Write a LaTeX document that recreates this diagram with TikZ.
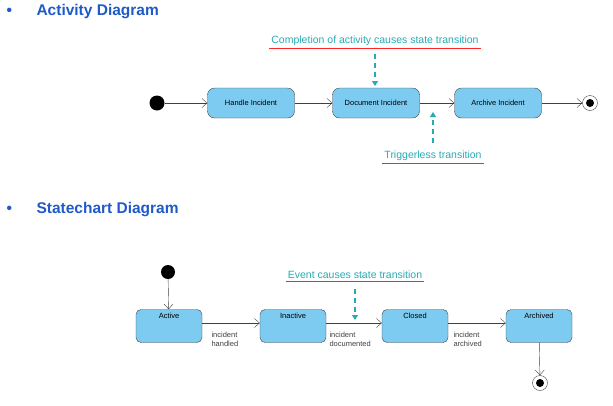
\documentclass[tikz,border=0pt]{standalone}
\usepackage{fontspec}
\setmainfont{Liberation Sans}
\usetikzlibrary{arrows.meta, positioning}
\definecolor{boxfill}{RGB}{125,203,240}
\definecolor{headblue}{RGB}{31,90,200}
\definecolor{noteteal}{RGB}{40,170,180}
\tikzset{
  act/.style={draw=black!75, fill=boxfill, rounded corners=7pt, minimum width=87pt, minimum height=30pt, font=\fontsize{7.5}{8}\selectfont},
  st/.style={draw=black!75, fill=boxfill, rounded corners=5pt, minimum width=66pt, minimum height=33pt},
  flow/.style={draw=black!75, -{Straight Barb[length=5pt,width=9pt]}},
  note/.style={text=noteteal, font=\fontsize{10.5}{12}\selectfont, inner sep=2pt},
  hint/.style={noteteal, line width=1.6pt, dash pattern=on 5pt off 4pt, -{Triangle[length=5pt,width=6pt]}},
  init/.style={circle, fill=black, inner sep=0pt, minimum size=15pt},
  lbl/.style={font=\fontsize{7.5}{9}\selectfont, align=left, anchor=north west, text=black!75},
  head/.style={text=headblue, font=\bfseries\fontsize{15.5}{17}\selectfont, anchor=west}
}
\begin{document}
\begin{tikzpicture}[x=1pt, y=-1pt]
    \useasboundingbox (0,0) rectangle (613,405);

    % Headings
    \node[head] (b1) at (3,12) {•};
    \node[head] (h1) at (33,12) {Activity Diagram};
    \node[head] (b2) at (3,210) {•};
    \node[head] (h2) at (33,210) {Statechart Diagram};

    % Activity diagram
    \node[init] (start) at (157,103) {};
    \node[act] (handle) at (251,103) {Handle Incident};
    \node[act] (doc) at (376,103) {Document Incident};
    \node[act] (arch) at (498,103) {Archive Incident};
    \node[circle, draw=black!75, fill=white, minimum size=15pt, inner sep=0pt] (stop) at (590,103) {};
    \node[init, minimum size=8pt] (stopdot) at (stop) {};
    \draw[flow] (start) -- (handle);
    \draw[flow] (handle) -- (doc);
    \draw[flow] (doc) -- (arch);
    \draw[flow] (arch) -- (stop);

    % Notes on the activity diagram
    \node[note] (n1) at (375,41) {Completion of activity causes state transition};
    \draw[red!85, thick] (n1.south west) -- (n1.south east);
    \coordinate (n1tip) at (375,86);
    \draw[hint] (375,54) -- (n1tip);
    \node[note] (n2) at (433,156) {Triggerless transition};
    \draw[red!85, thick] (n2.south west) -- (n2.south east);
    \coordinate (n2tip) at (433,112);
    \draw[hint] (433,143) -- (n2tip);

    % Statechart diagram
    \node[init, minimum size=14pt] (s0) at (168,272) {};
    \foreach \nm/\x in {active/169, inactive/293, closed/415, archived/539}
        \node[st] (\nm) at (\x,326) {};
    \foreach \nm/\lb in {active/Active, inactive/Inactive, closed/Closed, archived/Archived}
        \node[font=\fontsize{7.5}{8}\selectfont, below=0pt of \nm.north] (\nm-t) {\lb};
    \node[circle, draw=black!75, fill=white, minimum size=15pt, inner sep=0pt] (s9) at (540,383) {};
    \node[init, minimum size=8pt] (s9dot) at (s9) {};
    \draw[flow] (s0) -- (active);
    \draw[flow] (active.east |- 0,323) -- (inactive.west |- 0,323);
    \draw[flow] (inactive.east |- 0,323) -- (closed.west |- 0,323);
    \draw[flow] (closed.east |- 0,323) -- (archived.west |- 0,323);
    \draw[flow] (archived) -- (s9);
    \node[lbl] (l1) at (208,329) {incident\\handled};
    \node[lbl] (l2) at (326,329) {incident\\documented};
    \node[lbl] (l3) at (450,329) {incident\\archived};

    % Note on the statechart
    \node[note] (n3) at (355,275) {Event causes state transition};
    \draw[red!85, thick] (n3.south west) -- (n3.south east);
    \coordinate (n3tip) at (355,320);
    \draw[hint] (355,289) -- (n3tip);

\end{tikzpicture}
\end{document}
